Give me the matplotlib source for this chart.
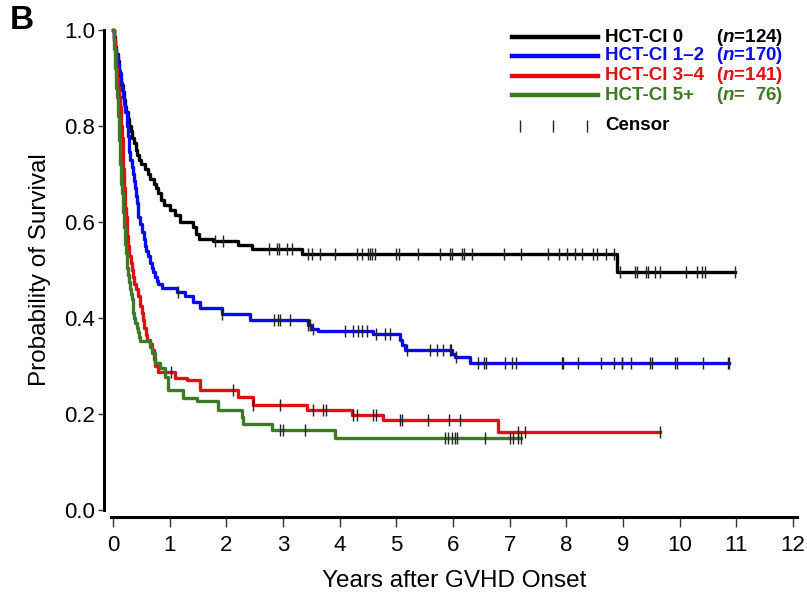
import numpy as np
import matplotlib
matplotlib.use("Agg")
import matplotlib.pyplot as plt
from matplotlib.lines import Line2D

plt.rcParams['font.family'] = ['Liberation Sans', 'DejaVu Sans']
plt.rcParams['mathtext.fontset'] = 'custom'
plt.rcParams['mathtext.bfit'] = 'Liberation Sans:italic:bold'

# step curves: time of event, survival after event
black_t = [0, 0.02, 0.04, 0.06, 0.08, 0.10, 0.12, 0.14, 0.17, 0.19, 0.21, 0.23, 0.26, 0.29, 0.31, 0.34,
           0.37, 0.40, 0.42, 0.46, 0.50, 0.56, 0.62, 0.66, 0.72, 0.76, 0.79, 0.85, 0.90, 1.00, 1.09, 1.18,
           1.41, 1.47, 1.52, 1.76, 2.20, 2.45, 3.33, 8.90]
black_s = [1.0, 0.985, 0.965, 0.95, 0.935, 0.915, 0.90, 0.885, 0.87, 0.855, 0.84, 0.83, 0.815, 0.80, 0.79,
           0.775, 0.765, 0.75, 0.74, 0.73, 0.72, 0.71, 0.70, 0.69, 0.68, 0.67, 0.66, 0.645, 0.635, 0.625,
           0.615, 0.60, 0.59, 0.575, 0.565, 0.56, 0.553, 0.544, 0.533, 0.495]
black_end = 10.97
black_cens = [1.80, 1.94, 2.75, 2.89, 2.93, 3.07, 3.16, 3.44, 3.51, 3.65, 3.92, 4.30, 4.39, 4.50, 4.53,
              4.57, 4.62, 4.99, 5.04, 5.38, 5.77, 5.94, 5.98, 6.16, 6.19, 6.33, 6.90, 7.20, 7.67, 7.88,
              8.02, 8.15, 8.27, 8.47, 8.54, 8.70, 8.85, 8.94, 9.21, 9.24, 9.40, 9.44, 9.56, 9.66, 10.12,
              10.30, 10.40, 10.44, 10.97]

blue_t = [0, 0.02, 0.04, 0.06, 0.09, 0.11, 0.14, 0.16, 0.18, 0.20, 0.22, 0.24, 0.25, 0.27, 0.28, 0.29,
          0.30, 0.33, 0.35, 0.37, 0.39, 0.41, 0.42, 0.44, 0.45, 0.48, 0.51, 0.54, 0.56, 0.59, 0.62, 0.65,
          0.68, 0.71, 0.74, 0.77, 0.80, 0.86, 1.13, 1.27, 1.41, 1.53, 1.92, 2.42, 3.44, 3.50, 3.62, 4.59,
          5.06, 5.10, 5.15, 5.98, 6.04, 6.30]
blue_s = [1.0, 0.98, 0.96, 0.945, 0.93, 0.91, 0.89, 0.875, 0.86, 0.845, 0.83, 0.815, 0.80, 0.78, 0.76,
          0.745, 0.73, 0.715, 0.70, 0.685, 0.67, 0.655, 0.64, 0.625, 0.61, 0.595, 0.58, 0.565, 0.55, 0.54,
          0.53, 0.515, 0.505, 0.495, 0.485, 0.477, 0.47, 0.462, 0.455, 0.445, 0.433, 0.42, 0.408, 0.396,
          0.385, 0.378, 0.372, 0.367, 0.354, 0.343, 0.333, 0.325, 0.318, 0.306]
blue_end = 10.88
blue_cens = [1.15, 1.92, 2.84, 2.91, 2.95, 3.12, 3.44, 3.47, 3.53, 4.09, 4.23, 4.32, 4.39, 4.48, 4.64,
             4.80, 4.89, 5.18, 5.59, 5.71, 5.82, 5.94, 5.96, 6.05, 6.44, 6.54, 6.58, 6.91, 7.05, 7.11,
             7.92, 7.95, 8.20, 8.61, 8.85, 8.98, 8.99, 9.15, 9.47, 9.52, 9.91, 9.96, 10.41, 10.85, 10.88]

red_t = [0, 0.015, 0.03, 0.045, 0.06, 0.075, 0.09, 0.105, 0.12, 0.135, 0.15, 0.16, 0.17, 0.175, 0.18,
         0.19, 0.20, 0.21, 0.22, 0.23, 0.24, 0.255, 0.27, 0.29, 0.31, 0.33, 0.35, 0.375, 0.40, 0.44, 0.48,
         0.51, 0.53, 0.55, 0.575, 0.60, 0.65, 0.69, 0.72, 0.74, 0.80, 1.09, 1.30, 1.53, 2.20, 2.47, 3.42,
         4.22, 4.77, 6.80]
red_s = [1.0, 0.98, 0.96, 0.94, 0.92, 0.90, 0.88, 0.86, 0.84, 0.82, 0.80, 0.775, 0.75, 0.73, 0.71, 0.69,
         0.67, 0.65, 0.63, 0.61, 0.59, 0.57, 0.55, 0.53, 0.515, 0.50, 0.485, 0.47, 0.46, 0.445, 0.425, 0.41,
         0.395, 0.38, 0.365, 0.355, 0.345, 0.333, 0.315, 0.30, 0.288, 0.276, 0.27, 0.25, 0.236, 0.219,
         0.208, 0.198, 0.187, 0.163]
red_end = 9.65
red_cens = [1.02, 2.12, 2.47, 2.95, 3.53, 3.70, 3.76, 4.24, 4.31, 4.58, 4.64, 5.06, 5.10, 5.56, 5.93,
            6.12, 7.14, 7.27, 9.65]

green_t = [0, 0.01, 0.02, 0.03, 0.04, 0.05, 0.06, 0.07, 0.08, 0.09, 0.10, 0.105, 0.11, 0.115, 0.12, 0.13,
           0.14, 0.15, 0.16, 0.17, 0.18, 0.19, 0.20, 0.21, 0.22, 0.23, 0.24, 0.25, 0.26, 0.28, 0.30, 0.315,
           0.33, 0.345, 0.36, 0.375, 0.39, 0.415, 0.44, 0.46, 0.48, 0.66, 0.69, 0.74, 0.83, 0.92, 0.97,
           1.23, 1.48, 1.85, 2.27, 2.30, 2.80, 3.91]
green_s = [1.0, 0.98, 0.96, 0.94, 0.92, 0.90, 0.88, 0.86, 0.84, 0.82, 0.80, 0.785, 0.77, 0.755, 0.74, 0.72,
           0.70, 0.68, 0.66, 0.64, 0.62, 0.605, 0.59, 0.57, 0.555, 0.535, 0.52, 0.505, 0.49, 0.475, 0.46,
           0.45, 0.44, 0.425, 0.41, 0.40, 0.39, 0.38, 0.37, 0.36, 0.352, 0.34, 0.327, 0.306, 0.296, 0.277,
           0.25, 0.233, 0.228, 0.208, 0.194, 0.18, 0.167, 0.149]
green_end = 7.20
green_cens = [2.95, 3.00, 3.38, 5.86, 5.91, 5.98, 6.03, 6.07, 6.56, 7.00, 7.06, 7.14, 7.20]

labels = ["HCT-CI 0", "HCT-CI 1\u20132", "HCT-CI 3\u20134", "HCT-CI 5+"]
counts = ["124", "170", "141", "  76"]
colors = ["#000000", "#0a0af0", "#e01010", "#3d7a25"]

groups = [(black_t, black_s, black_end, black_cens),
          (blue_t, blue_s, blue_end, blue_cens),
          (red_t, red_s, red_end, red_cens),
          (green_t, green_s, green_end, green_cens)]

fig = plt.figure(figsize=(8.07, 5.97), dpi=100)
ax = fig.add_axes([0.1372, 0.1457, 0.851, 0.804])

for (t, s, end, cens), c in zip(groups, colors):
    tt = np.append(t, end)
    ss = np.append(s, s[-1])
    ax.step(tt, ss, where='post', color=c, lw=2.4, clip_on=False, zorder=3)
    idx = np.searchsorted(t, cens, side='right') - 1
    cy = np.array(s)[idx]
    ax.plot(cens, cy, ls='none', marker='|', ms=9, mew=1.0, color='#222222', zorder=4, clip_on=False)

ax.set_xlim(-0.04, 12.08)
ax.set_ylim(0, 1.0)
ax.set_xticks(range(0, 13))
ax.set_yticks([0, 0.2, 0.4, 0.6, 0.8, 1.0])
ax.set_yticklabels(["0.0", "0.2", "0.4", "0.6", "0.8", "1.0"])
ax.spines['top'].set_visible(False)
ax.spines['right'].set_visible(False)
ax.spines['left'].set_position(('outward', 5))
ax.spines['bottom'].set_position(('outward', 5))
ax.spines['left'].set_linewidth(2.2)
ax.spines['bottom'].set_linewidth(2.2)
ax.tick_params(axis='x', direction='out', length=7, width=1, labelsize=16, pad=6, color='#333333')
ax.tick_params(axis='y', direction='out', length=4, width=1, labelsize=16, pad=2, color='#333333')
ax.set_xlabel("Years after GVHD Onset", fontsize=17.5, labelpad=10)
ax.set_ylabel("Probability of Survival", fontsize=17.5, labelpad=10)

fig.text(0.012, 0.965, "B", fontsize=24, fontweight='bold', va='center', ha='left')

# legend drawn by hand
W, H = 807.0, 597.0
rows_y = [37, 56, 76, 95]
for y, lab, n, c in zip(rows_y, labels, counts, colors):
    fy = 1 - y / H
    fig.add_artist(Line2D([512 / W, 598 / W], [fy, fy], color=c, lw=3.2))
    fig.text(605 / W, fy, lab, color=c, fontsize=13.5, fontweight='bold', va='center', ha='left')
    fig.text(783 / W, fy, r"($\mathbfit{n}$=" + n + ")", color=c, fontsize=13.5, fontweight='bold',
             va='center', ha='right')
fy = 1 - 126 / H
for x in [520, 553, 587]:
    fig.add_artist(Line2D([x / W], [fy], ls='none', marker='|', ms=8, mew=1.0, color='#222222'))
fig.text(605 / W, fy, "Censor", color='black', fontsize=13.5, fontweight='bold', va='center', ha='left')

fig.savefig("out.png", dpi=100)
